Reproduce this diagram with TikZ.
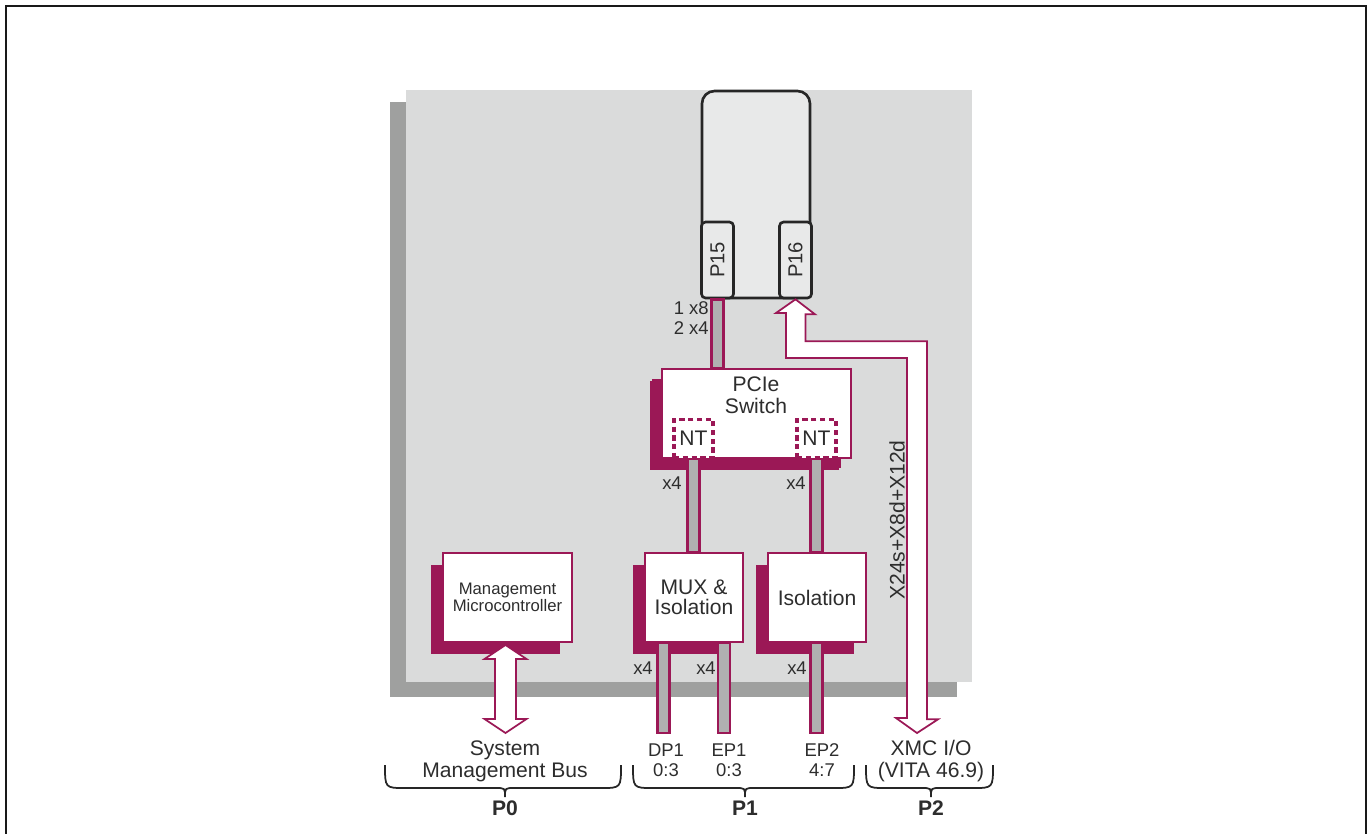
\documentclass[tikz,border=0pt]{standalone}
\usepackage{fontspec}
\setmainfont{Liberation Sans}
\usetikzlibrary{positioning,shadows}
\definecolor{mag}{RGB}{155,24,86}
\definecolor{board}{RGB}{218,219,219}
\definecolor{boardshade}{RGB}{159,160,159}
\definecolor{busgray}{RGB}{176,177,177}
\definecolor{modfill}{RGB}{232,233,233}
\definecolor{ink}{RGB}{45,45,45}
\tikzset{
    %Define style for boxes
    block/.style={
           rectangle,
           draw=mag, line width=1pt,
           fill=white,
           minimum width=1.96cm,
           minimum height=1.78cm,
           inner sep=0pt,
           align=center,
           text=ink,
           font=\fontsize{12}{11.5}\selectfont,
           drop shadow={shadow xshift=-0.24cm, shadow yshift=-0.23cm, fill=mag, opacity=1}},
    module/.style={
           rectangle,
           rounded corners=0.25cm,
           draw=black!85, line width=1.5pt,
           fill=modfill},
    conn/.style={
           rectangle,
           rounded corners=0.08cm,
           draw=black!85, line width=1.5pt,
           fill=modfill,
           minimum width=0.64cm,
           minimum height=1.52cm,
           inner sep=0pt,
           text=ink,
           font=\fontsize{11.5}{12}\selectfont},
    ntbox/.style={
           rectangle,
           draw=mag, line width=1.8pt,
           dash pattern=on 3pt off 2pt,
           fill=white,
           minimum width=0.78cm,
           minimum height=0.76cm,
           inner sep=0pt,
           text=ink,
           font=\fontsize{12}{12}\selectfont},
    % Define bus and arrow style
    bus/.style={draw=mag, fill=busgray, line width=1.4pt},
    fatarrow/.style={draw=mag, fill=white, line width=1pt, line join=miter},
    brace/.style={draw=black!85, line width=1pt},
    lbl/.style={text=ink, align=center, inner sep=0pt, font=\fontsize{12}{12.5}\selectfont},
    small/.style={text=ink, align=center, inner sep=0pt, font=\fontsize{10.5}{11.3}\selectfont},
    plbl/.style={text=ink, inner sep=0pt, font=\fontsize{12}{12}\selectfont\bfseries}
}
% brace under the connector names: left, tip, right
\newcommand{\connbrace}[3]{%
  \draw[brace] (#1,765) .. controls (#1,788) .. (#1+20,788) -- (#2-9,788)
     .. controls (#2,788) .. (#2,797) .. controls (#2,788) .. (#2+9,788)
     -- (#3-20,788) .. controls (#3,788) .. (#3,765);}

\begin{document}
\begin{tikzpicture}[x=0.02cm, y=-0.02cm]
\useasboundingbox (0,0) rectangle (1368,833);
% frame and board
\draw[line width=1.4pt, black!90] (6,845) |- (1366,6) -- (1366,845);
\fill[boardshade] (390,102) rectangle (957,697);
\fill[board] (406,90) rectangle (972,682);

% XMC carrier with its connectors
\node[module, minimum width=2.16cm, minimum height=4.14cm] (mod) at (756,194.5) {};
\node[conn] (P15) at (717.5,260) {\rotatebox{90}{P15}};
\node[conn] (P16) at (795.5,260) {\rotatebox{90}{P16}};

% switch and bridges
\node[block, minimum width=3.78cm, drop shadow={shadow xshift=-0.2cm, shadow yshift=-0.2cm, fill=mag, opacity=1}] (sw) at (756.5,413.5) {};
\node[lbl] (swtxt) at (756,395) {PCIe\\Switch};
\node[ntbox] (ntl) at (693.5,438.5) {NT};
\node[ntbox] (ntr) at (816.5,438.5) {NT};
\node[block] (mux) at (694,597.5) {MUX \&\\Isolation};
\node[block] (iso) at (817,597.5) {Isolation};
\node[block, minimum width=2.58cm, font=\fontsize{9.5}{10}\selectfont] (mmc) at (507.5,597.5) {Management\\Microcontroller};

% lanes
\coordinate (dp1) at (663.5,733);
\coordinate (ep1) at (724,733);
\coordinate (ep2) at (816.5,733);
\draw[bus] ([xshift=-0.12cm]P15.south) rectangle ([xshift=0.12cm]P15.south |- sw.north);
\draw[bus] ([xshift=-0.12cm]ntl.south) rectangle ([xshift=0.12cm]ntl.south |- mux.north);
\draw[bus] ([xshift=-0.12cm]ntr.south) rectangle ([xshift=0.12cm]ntr.south |- iso.north);
\draw[bus] ([xshift=-0.12cm]dp1 |- mux.south) rectangle ([xshift=0.12cm]dp1);
\draw[bus] ([xshift=-0.12cm]ep1 |- mux.south) rectangle ([xshift=0.12cm]ep1);
\draw[bus] ([xshift=-0.12cm]ep2 |- iso.south) rectangle ([xshift=0.12cm]ep2);

\node[small, align=right, anchor=east] (lanes) at (709,318) {1 x8\\2 x4};
\node[small] (xa) at (672,483) {x4};
\node[small] (xb) at (796,483) {x4};
\node[small] (xc) at (643,668) {x4};
\node[small] (xd) at (706,668) {x4};
\node[small] (xe) at (797,668) {x4};

% management bus
\coordinate (smbtop) at (505.5,645);
\coordinate (smbbot) at (505.5,733);
\draw[fatarrow] (smbtop) -- ++(21,14) -- ++(-10.5,0) -- ++(0,60) -- ++(10.5,0) -- (smbbot)
   -- ++(-21,-14) -- ++(10.5,0) -- ++(0,-60) -- ++(-10.5,0) -- cycle;

% XMC I/O
\coordinate (xmcio) at (917,733);
\draw[fatarrow] (P16.south) -- ++(19.5,15) -- ++(-9.5,0) -- ++(0,27) -- ++(121.5,0) -- ++(0,378)
   -- ++(11,0) -- (xmcio) -- ++(-21,-15) -- ++(11,0) -- ++(0,-360) -- ++(-121,0) -- ++(0,-45)
   -- ++(-10,0) -- cycle;
\node[lbl, rotate=90] (xmcw) at (897,520) {X24s+X8d+X12d};

% backplane connectors
\node[lbl, font=\fontsize{12}{12.5}\selectfont] (smb) at (505,761) {System\\Management Bus};
\node[small] (dp1t) at (666,760) {DP1\\0:3};
\node[small] (ep1t) at (729,760) {EP1\\0:3};
\node[small] (ep2t) at (822,760) {EP2\\4:7};
\node[lbl] (xmct) at (931,761) {XMC I/O\\(VITA 46.9)};
\connbrace{385}{505}{621}
\connbrace{633}{745}{854}
\connbrace{866}{931}{993}
\node[plbl] (P0) at (505,808) {P0};
\node[plbl] (P1) at (745,808) {P1};
\node[plbl] (P2) at (931,808) {P2};
\end{tikzpicture}
\end{document}
